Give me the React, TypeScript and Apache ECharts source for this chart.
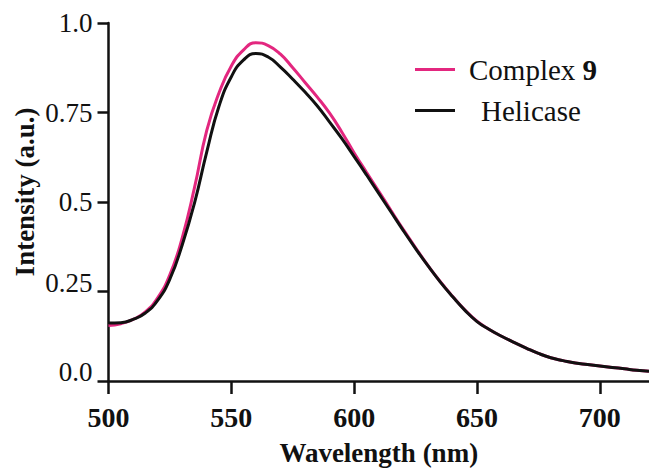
import React, { useEffect, useRef } from "react";
import * as echarts from "echarts";

// Emission wavelengths (nm)
const wavelengths: number[] = [
  500, 505, 510, 515, 520, 525, 530, 535, 540, 545, 550, 555, 560, 565, 570,
  575, 580, 585, 590, 595, 600, 605, 610, 615, 620, 625, 630, 635, 640, 645,
  650, 655, 660, 665, 670, 675, 680, 685, 690, 695, 700, 705, 710, 715, 720,
];

// Normalised intensity, Complex 9
const complex9: number[] = [
  0.155, 0.16, 0.172, 0.193, 0.232, 0.297, 0.4, 0.54, 0.7, 0.805, 0.88, 0.925,
  0.945, 0.937, 0.913, 0.875, 0.834, 0.793, 0.748, 0.695, 0.637, 0.583, 0.53,
  0.476, 0.423, 0.372, 0.323, 0.278, 0.237, 0.199, 0.167, 0.144, 0.125, 0.108,
  0.092, 0.077, 0.065, 0.057, 0.05, 0.046, 0.042, 0.038, 0.034, 0.03, 0.027,
];

// Normalised intensity, Helicase
const helicase: number[] = [
  0.162, 0.163, 0.172, 0.19, 0.225, 0.285, 0.38, 0.497, 0.64, 0.768, 0.85,
  0.897, 0.915, 0.905, 0.877, 0.843, 0.807, 0.768, 0.723, 0.677, 0.627, 0.576,
  0.524, 0.472, 0.42, 0.37, 0.322, 0.277, 0.236, 0.198, 0.166, 0.144, 0.125,
  0.108, 0.092, 0.077, 0.065, 0.057, 0.05, 0.046, 0.042, 0.038, 0.034, 0.03,
  0.027,
];

// Wavelength ticks (the axis runs on to 720 without a tick there)
const xTicks: number[] = [500, 550, 600, 650, 700];
const yTickLabels: Record<string, string> = {
  "0": "0.0",
  "0.25": "0.25",
  "0.5": "0.5",
  "0.75": "0.75",
  "1": "1.0",
};

const SERIF = "'Liberation Serif', 'Times New Roman', serif";
const PINK = "#e3277f";
const BLACK = "#111111";

const pair = (ys: number[]) => wavelengths.map((x, i) => [x, ys[i]]);

export default function App() {
  const ref = useRef<HTMLDivElement>(null);

  useEffect(() => {
    if (!ref.current) return;
    const chart = echarts.init(ref.current, undefined, { renderer: "svg" });
    chart.setOption({
      animation: false,
      backgroundColor: "#ffffff",
      grid: { left: 108.5, right: 0, top: 23, bottom: 84, containLabel: false },
      legend: {
        orient: "vertical",
        left: 410,
        top: 50,
        itemGap: 12,
        itemWidth: 40,
        itemHeight: 3,
        icon: "rect",
        selectedMode: false,
        textStyle: {
          fontFamily: SERIF,
          fontSize: 29,
          color: BLACK,
          rich: {
            n: { fontFamily: SERIF, fontSize: 29, color: BLACK, padding: [0, 0, 0, 9] },
            b: { fontFamily: SERIF, fontSize: 29, color: BLACK, fontWeight: "bold" },
            h: { fontFamily: SERIF, fontSize: 29, color: BLACK, padding: [0, 0, 0, 21] },
          },
        },
        formatter: (name: string) =>
          name === "Complex 9" ? "{n|Complex }{b|9}" : `{h|${name}}`,
        data: ["Complex 9", "Helicase"],
      },
      xAxis: {
        type: "value",
        min: 500,
        max: 720,
        interval: 50,
        name: "Wavelength (nm)",
        nameLocation: "middle",
        nameGap: 58,
        nameTextStyle: {
          fontFamily: SERIF,
          fontSize: 27,
          fontWeight: "bold",
          color: BLACK,
        },
        axisLine: { show: true, onZero: false, lineStyle: { color: BLACK, width: 2.5 } },
        axisTick: {
          show: true,
          inside: false,
          length: 13,
          lineStyle: { color: BLACK, width: 2.5 },
          customValues: xTicks,
        },
        axisLabel: {
          margin: 22,
          fontFamily: SERIF,
          fontSize: 28,
          fontWeight: "bold",
          color: BLACK,
          customValues: xTicks,
          formatter: (v: number) => (v % 50 === 0 ? String(v) : ""),
        },
        splitLine: { show: false },
      },
      yAxis: {
        type: "value",
        min: 0,
        max: 1,
        interval: 0.25,
        axisLine: { show: true, lineStyle: { color: BLACK, width: 2.5 } },
        axisTick: { show: true, inside: false, length: 11, lineStyle: { color: BLACK, width: 2.5 } },
        axisLabel: {
          margin: 16,
          fontFamily: SERIF,
          fontSize: 27,
          color: BLACK,
          formatter: (v: number) => {
            const t = yTickLabels[String(v)] ?? String(v);
            return v < 0.3 ? `{up|${t}}` : t;
          },
          rich: {
            up: { fontFamily: SERIF, fontSize: 27, color: BLACK, padding: [0, 0, 18, 0] },
          },
        },
        splitLine: { show: false },
      },
      graphic: [
        {
          type: "text",
          x: 25,
          y: 192,
          rotation: Math.PI / 2,
          style: {
            text: "Intensity (a.u.)",
            fontFamily: SERIF,
            fontSize: 27,
            fontWeight: "bold",
            fill: BLACK,
            textAlign: "center",
            textVerticalAlign: "middle",
          },
        },
      ],
      series: [
        {
          name: "Complex 9",
          type: "line",
          data: pair(complex9),
          smooth: true,
          showSymbol: false,
          lineStyle: { color: PINK, width: 3 },
          itemStyle: { color: PINK },
        },
        {
          name: "Helicase",
          type: "line",
          data: pair(helicase),
          smooth: true,
          showSymbol: false,
          lineStyle: { color: BLACK, width: 3 },
          itemStyle: { color: BLACK },
        },
      ],
    });
    return () => chart.dispose();
  }, []);

  return (
    <div
      ref={ref}
      style={{ position: "fixed", left: 0, top: 0, width: 649, height: 471 }}
    />
  );
}
